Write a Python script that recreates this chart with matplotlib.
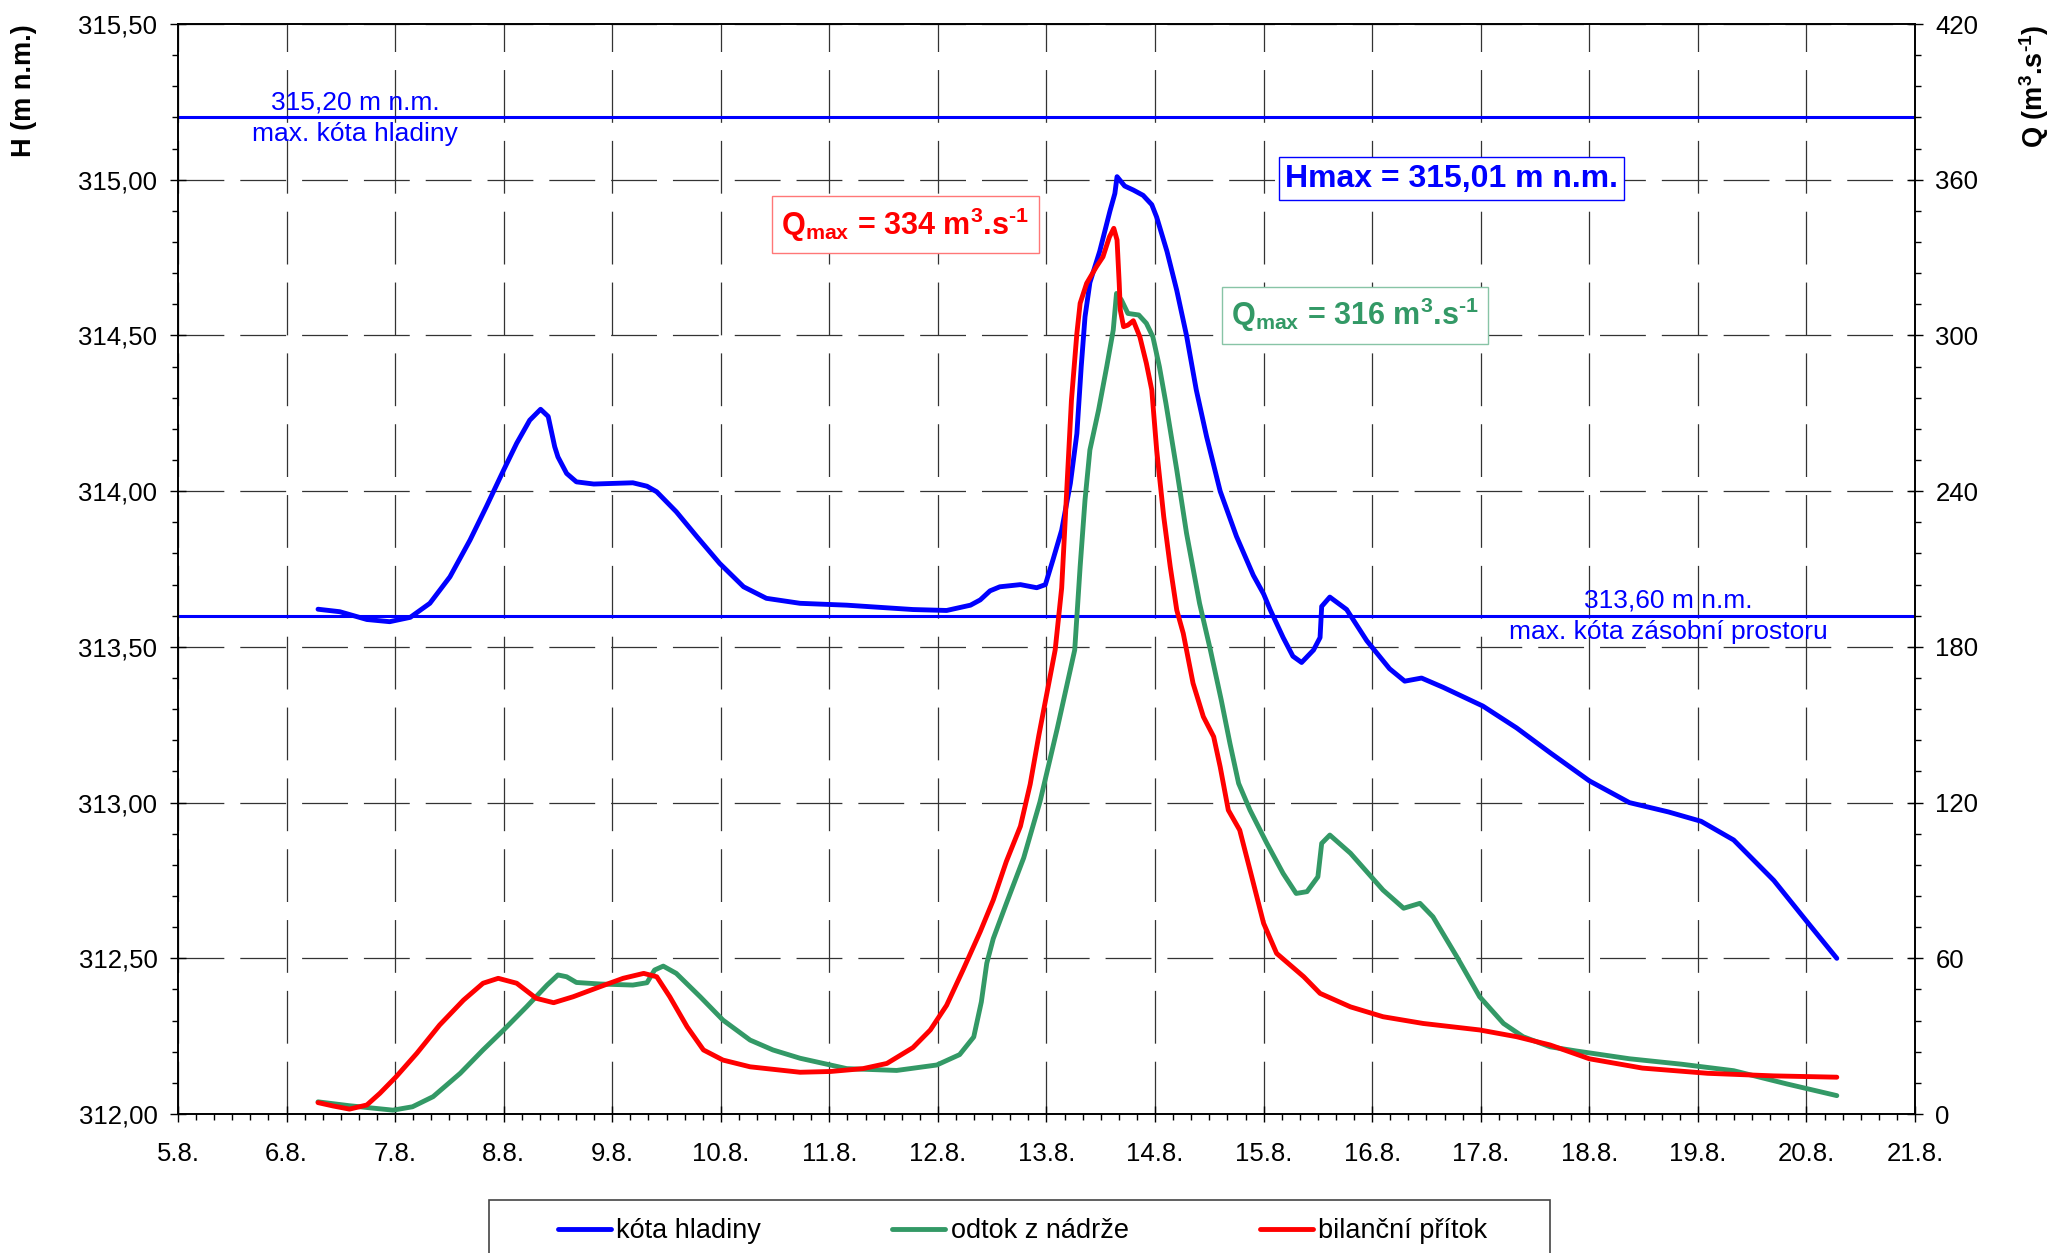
import numpy as np
import matplotlib.pyplot as plt
from matplotlib.ticker import MultipleLocator, FuncFormatter
from matplotlib.patches import Rectangle

plt.rcParams['font.family'] = ['Liberation Sans', 'DejaVu Sans']
plt.rcParams['mathtext.fontset'] = 'custom'
plt.rcParams['mathtext.rm'] = 'Liberation Sans:bold'
plt.rcParams['mathtext.it'] = 'Liberation Sans:bold'
plt.rcParams['mathtext.bf'] = 'Liberation Sans:bold'
plt.rcParams['lines.scale_dashes'] = False

# kota hladiny (m n.m.), x = day of August
h_day = [6.29, 6.49, 6.74, 6.95, 7.14, 7.32, 7.505, 7.69, 7.84, 8.00, 8.12, 8.24, 8.34, 8.41,
         8.47, 8.50, 8.58, 8.67, 8.83, 9.19, 9.32, 9.41, 9.59, 9.78, 9.99, 10.21, 10.42,
         10.73, 11.16, 11.77, 12.08, 12.30, 12.39, 12.48, 12.57, 12.76, 12.91, 12.99, 13.06,
         13.14, 13.22, 13.28, 13.32, 13.355, 13.40, 13.49, 13.585, 13.63, 13.65, 13.72, 13.80,
         13.89, 13.97, 14.015, 14.11, 14.20, 14.29, 14.38, 14.475, 14.60, 14.75, 14.905, 15.00,
         15.06, 15.18, 15.27, 15.35, 15.46, 15.52, 15.535, 15.61, 15.765, 15.95, 16.16, 16.30,
         16.455, 16.655, 17.02, 17.33, 17.64, 18.00, 18.37, 18.73, 19.03, 19.33, 19.70, 20.00,
         20.28]
h_val = [313.621, 313.613, 313.588, 313.581, 313.595, 313.64, 313.725, 313.843, 313.95,
         314.068, 314.154, 314.228, 314.263, 314.24, 314.143, 314.11, 314.057, 314.03,
         314.023, 314.027, 314.016, 313.998, 313.934, 313.854, 313.768, 313.693, 313.656,
         313.64, 313.634, 313.62, 313.617, 313.634, 313.651, 313.68, 313.693, 313.70, 313.69,
         313.70, 313.78, 313.875, 314.025, 314.185, 314.40, 314.56, 314.67, 314.77, 314.90,
         314.956, 315.01, 314.98, 314.967, 314.95, 314.92, 314.88, 314.77, 314.645, 314.50,
         314.325, 314.175, 314.00, 313.855, 313.73, 313.67, 313.62, 313.53, 313.47, 313.45,
         313.49, 313.53, 313.63, 313.66, 313.62, 313.52, 313.43, 313.39, 313.40, 313.37,
         313.31, 313.24, 313.16, 313.07, 313.00, 312.97, 312.94, 312.88, 312.75, 312.62,
         312.50]

# odtok z nadrze (m3/s)
out_day = [6.29, 6.58, 6.98, 7.16, 7.35, 7.60, 7.81, 8.00, 8.21, 8.40, 8.50, 8.58, 8.67, 8.89,
           9.19, 9.32, 9.39, 9.47, 9.59, 9.81, 10.02, 10.27, 10.48, 10.73, 11.16, 11.62, 11.99,
           12.20, 12.33, 12.40, 12.45, 12.51, 12.63, 12.79, 12.94, 13.10, 13.26, 13.31, 13.355,
           13.40, 13.48, 13.555, 13.615, 13.645, 13.69, 13.75, 13.85, 13.92, 13.98, 14.04,
           14.10, 14.20, 14.29, 14.41, 14.51, 14.61, 14.69, 14.77, 14.875, 15.03, 15.18, 15.30,
           15.40, 15.50, 15.535, 15.61, 15.80, 16.10, 16.29, 16.44, 16.56, 16.78, 16.99, 17.21,
           17.39, 17.64, 17.88, 18.37, 18.85, 19.33, 19.82, 20.28]
out_val = [4.7, 3.2, 1.5, 2.8, 6.7, 15.7, 24.7, 32.4, 41.3, 49.7, 53.6, 52.9, 50.7, 50.1,
           49.7, 50.6, 55.5, 57.0, 54.2, 45.2, 36.2, 28.5, 24.7, 21.5, 17.5, 16.8, 18.9, 22.9,
           29.7, 43.2, 58.1, 67.6, 81.1, 98.7, 120.3, 148.7, 178.8, 210.9, 236.6, 255.9, 271.3,
           288.0, 302.1, 316.2, 313.7, 308.5, 307.9, 304.7, 299.5, 288.0, 273.9, 248.2, 223.8,
           196.8, 178.8, 159.5, 142.8, 127.4, 117.1, 104.3, 92.7, 85.0, 85.7, 91.4, 104.3,
           107.5, 100.5, 86.3, 79.3, 81.2, 76.0, 60.6, 45.2, 34.9, 29.8, 25.9, 24.3, 21.3,
           19.2, 16.7, 11.6, 7.1]

# bilancni pritok (m3/s)
in_day = [6.29, 6.43, 6.58, 6.74, 6.86, 7.01, 7.20, 7.41, 7.63, 7.81, 7.95, 8.12, 8.30, 8.46,
          8.64, 8.89, 9.10, 9.29, 9.41, 9.53, 9.69, 9.84, 10.02, 10.27, 10.73, 11.01, 11.31,
          11.53, 11.77, 11.93, 12.08, 12.23, 12.39, 12.51, 12.63, 12.76, 12.85, 12.93, 13.08,
          13.14, 13.19, 13.23, 13.28, 13.31, 13.37, 13.46, 13.52, 13.58, 13.62, 13.65, 13.67,
          13.68, 13.71, 13.75, 13.80, 13.86, 13.92, 13.97, 14.015, 14.08, 14.14, 14.20, 14.26,
          14.35, 14.445, 14.54, 14.60, 14.675, 14.78, 14.875, 15.00, 15.12, 15.37, 15.52,
          15.80, 16.10, 16.47, 16.99, 17.33, 17.64, 18.00, 18.49, 19.09, 19.70, 20.28]
in_val = [4.4, 3.1, 1.9, 3.5, 8.0, 14.4, 23.4, 34.3, 43.9, 50.4, 52.3, 50.4, 44.6, 42.9,
          45.2, 49.1, 52.3, 54.2, 52.9, 45.2, 33.6, 24.7, 20.8, 18.2, 16.1, 16.4, 17.5, 19.5,
          25.6, 32.4, 41.9, 55.4, 70.3, 82.5, 97.3, 110.9, 127.1, 146.0, 178.8, 202.7, 243.0,
          275.1, 300.8, 312.4, 320.1, 326.5, 330.3, 338.0, 341.3, 336.8, 320.1, 309.8, 303.4,
          304.0, 305.7, 299.5, 289.3, 279.0, 255.9, 230.2, 210.9, 194.2, 185.2, 166.0, 153.1,
          145.4, 133.8, 117.1, 109.4, 94.0, 73.5, 61.9, 52.9, 46.5, 41.3, 37.5, 34.9, 32.4,
          29.8, 26.6, 21.3, 17.7, 15.7, 14.7, 14.2]

h_max_level = 315.20
h_storage = 313.60

blue = '#0000FF'
green = '#339966'
red = '#FF0000'

fig = plt.figure(figsize=(20.6, 12.53), dpi=100)
ax = fig.add_axes([0.0864, 0.1109, 0.8432, 0.8699])
ax2 = ax.twinx()

ax.set_xlim(5, 21)
ax.set_ylim(312.0, 315.5)
ax2.set_ylim(0, 420)

ax.xaxis.set_major_locator(MultipleLocator(1))
ax.xaxis.set_minor_locator(MultipleLocator(1 / 6))
ax.yaxis.set_major_locator(MultipleLocator(0.5))
ax.yaxis.set_minor_locator(MultipleLocator(0.1))
ax2.yaxis.set_major_locator(MultipleLocator(60))
ax2.yaxis.set_minor_locator(MultipleLocator(12))

ax.xaxis.set_major_formatter(FuncFormatter(lambda v, p: '%d.8.' % round(v)))
ax.yaxis.set_major_formatter(FuncFormatter(lambda v, p: ('%.2f' % v).replace('.', ',')))
ax2.yaxis.set_major_formatter(FuncFormatter(lambda v, p: '%d' % round(v)))

ax.tick_params(axis='both', which='major', direction='inout', length=11.5, width=1.0,
               labelsize=18.5, colors='black')
ax.tick_params(axis='y', which='major', pad=9)
ax.tick_params(axis='x', which='major', pad=14.5)
ax.tick_params(axis='both', which='minor', direction='out', length=4.3, width=1.0)
ax2.tick_params(axis='y', which='major', direction='inout', length=11.5, width=1.0,
                labelsize=18.5, pad=9)
ax2.tick_params(axis='y', which='minor', direction='out', length=4.3, width=1.0)

for a in (ax, ax2):
    for s in a.spines.values():
        s.set_linewidth(1.2)
        s.set_color('black')

ax.yaxis.grid(True, which='major', color='#333333', lw=0.9, linestyle=(0, (33, 11.5)))
ax.xaxis.grid(True, which='major', color='#333333', lw=0.9, linestyle=(0, (38, 13)))
ax.set_axisbelow(True)

ax.axhline(h_max_level, color=blue, lw=2.2)
ax.axhline(h_storage, color=blue, lw=2.2)

ax.annotate('315,20 m n.m.', (6.63, h_max_level), xytext=(0, 2), textcoords='offset points',
            ha='center', va='bottom', color=blue, fontsize=19)
ax.annotate('max. kóta hladiny', (6.63, h_max_level), xytext=(0, -3), textcoords='offset points',
            ha='center', va='top', color=blue, fontsize=19)
ax.annotate('313,60 m n.m.', (18.73, h_storage), xytext=(0, 2), textcoords='offset points',
            ha='center', va='bottom', color=blue, fontsize=19)
ax.annotate('max. kóta zásobní prostoru', (18.73, h_storage), xytext=(0, -3),
            textcoords='offset points', ha='center', va='top', color=blue, fontsize=19)

l1, = ax.plot(h_day, h_val, color=blue, lw=3.5, solid_capstyle='round',
              solid_joinstyle='round', label='kóta hladiny')
l2, = ax2.plot(out_day, out_val, color=green, lw=3.5, solid_capstyle='round',
               solid_joinstyle='round', label='odtok z nádrže')
l3, = ax2.plot(in_day, in_val, color=red, lw=3.5, solid_capstyle='round',
               solid_joinstyle='round', label='bilanční přítok')

ax.text(16.73, 315.003, 'Hmax = 315,01 m n.m.', ha='center', va='center', color=blue,
        fontsize=23, fontweight='bold', zorder=5,
        bbox=dict(boxstyle='square,pad=0.2', fc='white', ec=blue, lw=1.0))
ax.text(11.70, 314.856, r'Q$_{max}$ = 334 m$^{3}$.s$^{\text{-1}}$', ha='center', va='center',
        color=red, fontsize=22, fontweight='bold', zorder=5,
        bbox=dict(boxstyle='square,pad=0.3', fc='white', ec='#FF7777', lw=1.0))
ax.text(15.84, 314.565, r'Q$_{max}$ = 316 m$^{3}$.s$^{\text{-1}}$', ha='center', va='center',
        color=green, fontsize=22, fontweight='bold', zorder=5,
        bbox=dict(boxstyle='square,pad=0.3', fc='white', ec='#88C4A6', lw=1.0))

fig.text(24 / 2060, 1 - 24 / 1253, 'H (m n.m.)', rotation=90, ha='center', va='top',
         fontsize=19.5, fontweight='bold')
fig.text(2034 / 2060, 1 - 24 / 1253, r'Q (m$^{3}$.s$^{\text{-1}}$)', rotation=90, ha='center',
         va='top', fontsize=19.5, fontweight='bold')

fig.patches.append(Rectangle((489 / 2060, -0.2), (1550 - 489) / 2060, 0.2 + 1 - 1200 / 1253,
                             transform=fig.transFigure, fill=False, ec='#444444', lw=1.2))
fig.legend([l1, l2, l3], ['kóta hladiny', 'odtok z nádrže', 'bilanční přítok'],
           loc='center left', bbox_to_anchor=(558 / 2060, 1 - 1231 / 1253), ncol=3,
           frameon=False, fontsize=19.5, handlelength=1.95, handletextpad=0.2,
           columnspacing=4.85, borderpad=0, borderaxespad=0)

fig.savefig('out.png', dpi=100)
